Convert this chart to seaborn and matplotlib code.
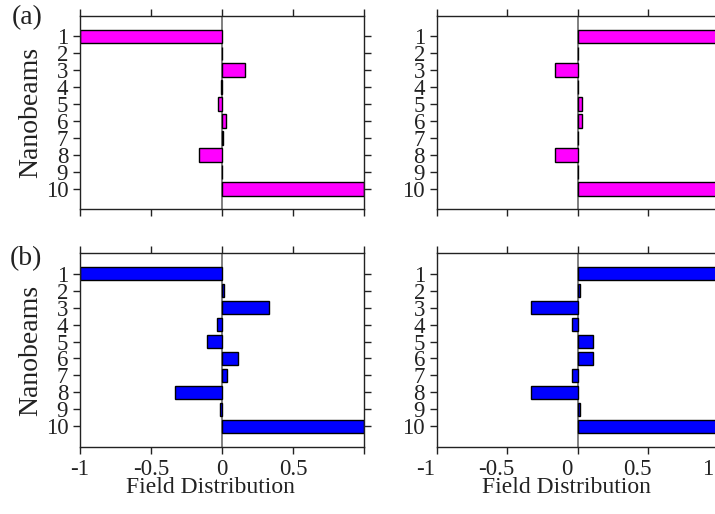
import numpy as np
import pandas as pd
import matplotlib
matplotlib.use("Agg")
import matplotlib.pyplot as plt
import matplotlib.transforms as mtransforms
import seaborn as sns

# ---- data ----
beams = ["1", "2", "3", "4", "5", "6", "7", "8", "9", "10"]
a_left = [-1.0, 0.002, 0.164, -0.006, -0.026, 0.028, 0.006, -0.160, 0.002, 1.0]
a_right = [1.0, 0.004, -0.161, 0.003, 0.028, 0.028, 0.003, -0.161, 0.004, 1.0]
b_left = [-1.0, 0.014, 0.333, -0.035, -0.108, 0.113, 0.038, -0.329, -0.012, 1.0]
b_right = [1.0, 0.014, -0.333, -0.038, 0.111, 0.111, -0.038, -0.333, 0.014, 1.0]
xticks = [-1, -0.5, 0, 0.5, 1]
xtick_labels_left = ["-1", "-0.5", "0", "0.5", ""]
xtick_labels_right = ["-1", "-0.5", "0", "0.5", "1"]
magenta = "#FF00FF"
blue = "#0000FF"

sns.set_style("ticks")
plt.rcParams["font.family"] = ["Liberation Serif", "DejaVu Serif"]
plt.rcParams["xtick.direction"] = "out"
plt.rcParams["ytick.direction"] = "out"

W, H = 715, 514
fig = plt.figure(figsize=(W / 100, H / 100), dpi=100)

def frac_rect(x0, y0, x1, y1):
    return [x0 / W, 1 - y1 / H, (x1 - x0) / W, (y1 - y0) / H]

axes = {
    "al": fig.add_axes(frac_rect(80, 16, 364, 209.3)),
    "ar": fig.add_axes(frac_rect(436.7, 16, 718.7, 209.3)),
    "bl": fig.add_axes(frac_rect(80, 253.3, 364, 446.7)),
    "br": fig.add_axes(frac_rect(436.7, 253.3, 718.7, 446.7)),
}
data = {"al": (a_left, magenta), "ar": (a_right, magenta),
        "bl": (b_left, blue), "br": (b_right, blue)}

for key, ax in axes.items():
    vals, col = data[key]
    df = pd.DataFrame({"beam": beams, "val": vals})
    ax.axvline(0, color="#808080", lw=1.4, zorder=0)
    sns.barplot(data=df, x="val", y="beam", order=beams, orient="h",
                color=col, saturation=1, width=0.8, edgecolor="black",
                linewidth=1.0, ax=ax, zorder=2)
    ax.set_xlim(-1, 1)
    ax.set_ylim(10.2, -1.2)
    ax.set_xticks(xticks)
    ax.set_yticks(range(len(beams)))
    ax.set_yticklabels(beams)
    for s in ax.spines.values():
        s.set_visible(True)
        s.set_color("#222222")
        s.set_linewidth(1.0)
    ax.tick_params(axis="both", which="both", direction="out", length=5,
                   width=1.0, color="#222222", labelsize=16.5,
                   top=True, right=True, labelcolor="#222222")
    ax.set_ylabel("")
    ax.set_xlabel("")
    if key in ("al", "ar"):
        ax.set_xticklabels([])
    elif key == "bl":
        ax.set_xticklabels(xtick_labels_left)
    else:
        ax.set_xticklabels(xtick_labels_right)

# ylabels
for key in ("al", "bl"):
    axes[key].set_ylabel("Nanobeams", fontsize=20, color="#222222", labelpad=2)

# xlabels
axes["bl"].set_xlabel("Field Distribution", fontsize=17, color="#222222")
axes["bl"].xaxis.set_label_coords(0.461, -0.155)
axes["br"].set_xlabel("Field Distribution", fontsize=17, color="#222222")
axes["br"].xaxis.set_label_coords(0.4585, -0.155)

# shift right panel x tick labels slightly left
offset = mtransforms.ScaledTranslation(-11 / 100, 0, fig.dpi_scale_trans)
for lab in axes["br"].get_xticklabels():
    lab.set_transform(lab.get_transform() + offset)

# panel letters
fig.text(12 / W, 1 - 5 / H, "(a)", fontsize=20, va="top", ha="left", color="#222222")
fig.text(10 / W, 1 - 246 / H, "(b)", fontsize=20, va="top", ha="left", color="#222222")

fig.savefig("out.png", dpi=100)
